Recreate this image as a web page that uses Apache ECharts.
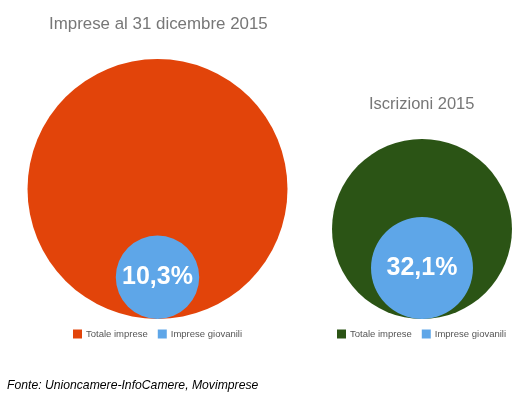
<!DOCTYPE html>
<html><head><meta charset="utf-8">
<script src="https://cdn.jsdelivr.net/npm/echarts@6/dist/echarts.min.js"></script>
<style>html,body{margin:0;padding:0;background:#fff}#c{width:528px;height:395px}</style>
</head><body><div id="c"></div>
<script>
var chartTitles = ['Imprese al 31 dicembre 2015', 'Iscrizioni 2015'];
var legendLabels = ['Totale imprese', 'Imprese giovanili'];
var totalValues = [100, 100];
var youngShares = [10.3, 32.1];
var shareLabels = ['10,3%', '32,1%'];
var sourceText = 'Fonte: Unioncamere-InfoCamere, Movimprese';

var totalColors = ['#E2440A', '#2B5415'];
var youngColor = '#5EA6E8';
var outerRadius = [130, 90];
var centersX = [157.5, 422];
var bottomY = 319;
var FONT = 'Liberation Sans, Arial, sans-serif';

var series = [];
var legends = [];
var nameMap = {};
for (var i = 0; i < 2; i++) {
  var R = outerRadius[i];
  var r = R * Math.sqrt(youngShares[i] / totalValues[i]);
  var tName = 'tot' + i, gName = 'gio' + i;
  nameMap[tName] = legendLabels[0];
  nameMap[gName] = legendLabels[1];
  series.push({
    type: 'pie', silent: true, radius: [0, R], center: [centersX[i], bottomY - R],
    label: {show: false}, labelLine: {show: false},
    itemStyle: {color: totalColors[i], borderWidth: 0},
    data: [{name: tName, value: totalValues[i]}]
  });
  series.push({
    type: 'pie', silent: true, radius: [0, r], center: [centersX[i], bottomY - r],
    label: {show: true, position: 'center', formatter: shareLabels[i], color: '#fff', fontSize: 25, fontWeight: 'bold', fontFamily: FONT, padding: [4, 0, 0, 0]},
    labelLine: {show: false},
    itemStyle: {color: youngColor, borderWidth: 0},
    data: [{name: gName, value: youngShares[i]}]
  });
}
var titles = [
  {text: chartTitles[0], left: 44, top: 11, textStyle: {color: '#777', fontSize: 16.9, fontWeight: 'normal', fontFamily: FONT}},
  {text: chartTitles[1], left: 364, top: 91, textStyle: {color: '#777', fontSize: 16.5, fontWeight: 'normal', fontFamily: FONT}},
  {text: sourceText, left: 2, top: 375, textStyle: {color: '#000', fontSize: 12.2, fontStyle: 'italic', fontWeight: 'normal', fontFamily: FONT}}
];
var legendPos = [[73, 329], [337, 329]];
for (var j = 0; j < 2; j++) {
  legends.push({
    left: legendPos[j][0], top: legendPos[j][1], width: 250, orient: 'horizontal',
    icon: 'rect', itemWidth: 9, itemHeight: 9, itemGap: 10, padding: 0,
    selectedMode: false,
    textStyle: {color: '#555', fontSize: 9.5, fontFamily: FONT, padding: [0, 0, 0, -1]},
    formatter: function (n) { return nameMap[n]; },
    data: [{name: 'tot' + j, itemStyle: {color: totalColors[j]}}, {name: 'gio' + j, itemStyle: {color: youngColor}}]
  });
}
var chart = echarts.init(document.getElementById('c'));
chart.setOption({animation: false, backgroundColor: '#fff', title: titles, legend: legends, series: series});
</script></body></html>
